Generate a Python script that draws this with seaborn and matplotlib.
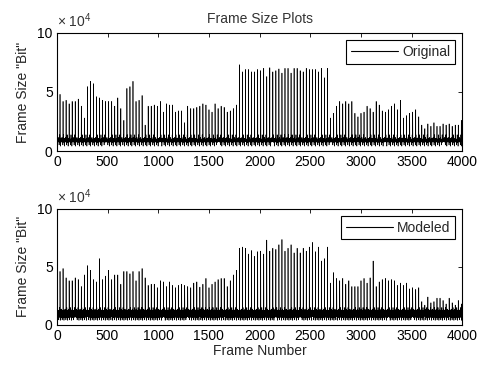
import numpy as np
import pandas as pd
import matplotlib
matplotlib.use("Agg")
import matplotlib.pyplot as plt
import seaborn as sns

# ---- data (frame sizes in units of 1e4 bit) ----
N_FRAMES = 4000
GOP = 30  # one I-frame every 30 frames

i_frames_original = [
    4.9, 4.8, 4.2, 4.3, 4.0, 4.2, 4.2, 4.4, 3.8, 2.8,
    5.45, 5.9, 5.7, 4.6, 4.5, 4.3, 4.2, 4.2, 4.2, 3.8,
    4.5, 3.6, 2.6, 5.3, 5.45, 5.9, 4.2, 4.3, 4.7, 2.2,
    3.8, 3.8, 3.9, 3.8, 4.2, 3.3, 4.0, 3.9, 3.9, 3.3,
    3.4, 3.4, 2.4, 3.8, 3.6, 3.6, 3.7, 3.8, 4.0, 3.9,
    3.5, 3.3, 4.0, 3.6, 3.8, 3.7, 3.3, 3.4, 3.6, 3.9,
    7.3, 6.7, 6.9, 6.9, 6.7, 6.7, 6.9, 6.8, 7.0, 6.3,
    7.05, 6.7, 6.8, 6.95, 6.6, 7.0, 7.0, 6.6, 7.0, 7.0,
    6.8, 6.7, 7.0, 6.9, 6.9, 6.9, 6.7, 7.0, 6.2, 7.0,
    2.8, 3.2, 3.8, 4.2, 4.0, 4.2, 4.0, 4.2, 3.2, 2.9,
    3.2, 3.3, 3.8, 3.6, 3.3, 4.2, 3.9, 3.4, 3.3, 3.5,
    3.8, 4.0, 3.5, 4.3, 2.8, 3.0, 3.2, 3.3, 3.5, 2.9,
    2.2, 1.9, 2.3, 2.1, 2.4, 2.1, 2.1, 2.3, 2.2, 2.3,
    2.1, 2.2, 2.2, 2.6,
]
i_frames_modeled = [
    3.2, 4.6, 4.85, 4.05, 3.8, 3.8, 4.05, 3.9, 3.3, 4.3,
    5.1, 4.7, 3.9, 3.7, 5.7, 3.9, 4.2, 4.7, 3.9, 4.3,
    4.3, 3.5, 4.6, 4.6, 4.4, 4.6, 3.8, 4.6, 4.85, 4.05,
    3.4, 3.5, 3.5, 3.2, 3.8, 3.7, 3.3, 3.7, 3.4, 3.2,
    3.4, 3.5, 3.4, 3.3, 3.2, 3.6, 3.7, 3.25, 3.5, 4.0,
    3.2, 3.5, 3.7, 3.9, 4.0, 4.0, 3.3, 3.8, 4.3, 4.7,
    6.6, 6.7, 6.6, 6.1, 6.4, 5.9, 6.3, 6.35, 6.1, 7.3,
    6.35, 6.6, 6.5, 6.9, 7.35, 6.35, 6.6, 6.9, 6.2, 6.6,
    6.2, 6.6, 6.35, 6.7, 7.1, 6.3, 6.7, 5.5, 5.7, 6.7,
    3.6, 4.5, 4.0, 3.8, 4.0, 3.5, 3.8, 3.3, 3.3, 3.3,
    3.8, 4.0, 3.6, 4.05, 5.5, 3.3, 3.7, 3.9, 4.0, 3.8,
    3.9, 3.8, 3.4, 3.6, 3.4, 3.6, 3.1, 3.2, 3.05, 3.2,
    2.0, 1.7, 2.4, 1.9, 2.0, 2.3, 2.3, 2.1, 1.8, 2.3,
    1.9, 1.7, 2.1, 1.8,
]
# P/B frame sizes (bit), cycled between the I-frames
pb_frames_original = [
    8600, 9100, 8200, 10400, 8800, 7900, 9300, 10900, 8400, 8700,
    7600, 9600, 11600, 8500, 8100, 9800, 7800, 8900, 10300, 8300,
    9200, 5200, 8800, 10100, 8000, 9400, 7700, 13800, 8600, 8200,
    9900, 7400, 9000, 10700, 8100, 8900, 4200,
]
pb_frames_modeled = [
    9600, 7400, 11800, 8600, 6200, 10500, 13600, 8100, 9800, 6900,
    11900, 9000, 7800, 10900, 4300, 9300, 12600, 8000, 10200, 7300,
    11300, 8800, 6400, 14900, 9700, 7600, 11000, 8400, 12300, 6800,
    10000, 8700, 3900, 11600, 9100, 7700, 12900,
]
x_ticks = [0, 500, 1000, 1500, 2000, 2500, 3000, 3500, 4000]
y_ticks = [0, 5e4, 10e4]
y_tick_labels = ["0", "5", "10"]


def build_trace(i_frames, pb_frames):
    sizes = np.array([pb_frames[k % len(pb_frames)] for k in range(N_FRAMES)], float)
    sizes[::GOP] = np.array(i_frames) * 1e4
    return sizes


frames = np.arange(1, N_FRAMES + 1)
df_original = pd.DataFrame({"frame": frames,
                            "size": build_trace(i_frames_original, pb_frames_original)})
df_modeled = pd.DataFrame({"frame": frames,
                           "size": build_trace(i_frames_modeled, pb_frames_modeled)})

sns.set_style("white")
plt.rcParams["font.family"] = ["Liberation Sans", "DejaVu Sans"]
plt.rcParams["font.size"] = 10
plt.rcParams["xtick.direction"] = "in"
plt.rcParams["ytick.direction"] = "in"

fig = plt.figure(figsize=(4.78, 3.65), dpi=100)
ax_top = fig.add_axes([0.119, 0.586, 0.848, 0.324])
ax_bot = fig.add_axes([0.119, 0.110, 0.848, 0.318])

for ax, df, name in [(ax_top, df_original, "Original"), (ax_bot, df_modeled, "Modeled")]:
    sns.lineplot(data=df, x="frame", y="size", ax=ax, color="black",
                 linewidth=0.45, label=name, estimator=None)
    ax.set_xlim(0, 4000)
    ax.set_ylim(0, 10e4)
    ax.set_xticks(x_ticks)
    ax.set_xticklabels([str(t) for t in x_ticks])
    ax.set_yticks(y_ticks)
    ax.set_yticklabels(y_tick_labels)
    ax.tick_params(axis="both", which="both", top=True, right=True, length=3,
                   width=0.6, colors="black", labelsize=10, pad=3)
    for spine in ax.spines.values():
        spine.set_color("black")
        spine.set_linewidth(0.8)
    ax.set_ylabel('Frame Size "Bit"', fontsize=10, labelpad=5)
    ax.set_xlabel("")
    ax.text(0.0, 1.02, r"× $\mathregular{10^4}$", transform=ax.transAxes,
            fontsize=10, ha="left", va="bottom", color="#333333")
    leg = ax.legend(loc="upper right", fancybox=False, framealpha=1,
                    edgecolor="black", handlelength=3.4, borderpad=0.35,
                    handletextpad=0.3, fontsize=10, borderaxespad=0.5)
    leg.get_frame().set_linewidth(0.8)
    for line in leg.get_lines():
        line.set_linewidth(0.8)

ax_top.set_title("Frame Size Plots", fontsize=10, pad=7, color="#333333")
ax_bot.set_xlabel("Frame Number", fontsize=10, labelpad=1)

fig.savefig("out.png", dpi=100, facecolor="white")
